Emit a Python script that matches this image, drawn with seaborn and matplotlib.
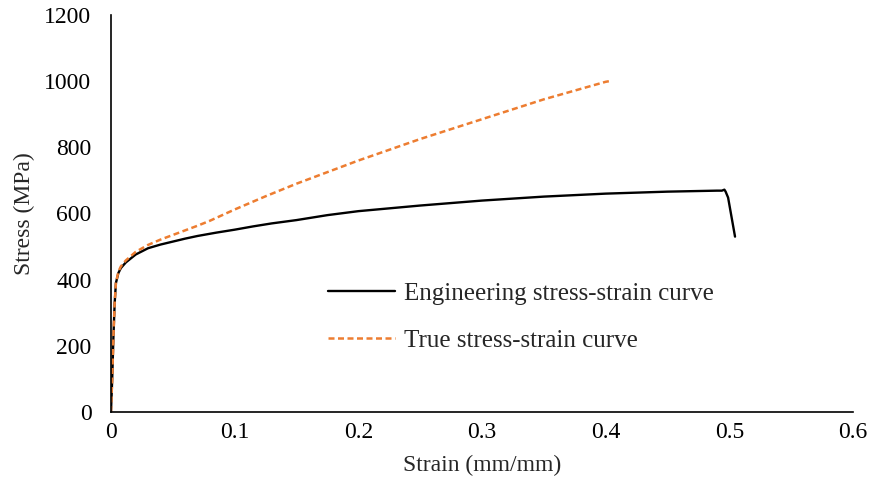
import matplotlib
matplotlib.use("Agg")
import matplotlib.pyplot as plt
import pandas as pd
import seaborn as sns

# Engineering stress-strain curve
eng_strain = [0, 0.001, 0.002, 0.003, 0.004, 0.006, 0.008, 0.012, 0.02, 0.03,
              0.04, 0.05, 0.06, 0.07, 0.085, 0.1, 0.115, 0.13, 0.15, 0.175,
              0.2, 0.25, 0.3, 0.35, 0.4, 0.45, 0.49, 0.494, 0.496, 0.497,
              0.499, 0.5046]
eng_stress = [0, 100, 230, 330, 390, 420, 435, 452, 476, 495,
              506, 515, 524, 532, 542, 551, 561, 570, 580, 595,
              607, 624, 639, 651, 660, 666, 669, 669, 672, 666,
              648, 530]

# True stress-strain curve
true_strain = [0, 0.001, 0.002, 0.003, 0.004, 0.006, 0.008, 0.012, 0.02, 0.03,
               0.04, 0.05, 0.06, 0.07, 0.08, 0.09, 0.1, 0.125, 0.15, 0.2,
               0.25, 0.3, 0.35, 0.4, 0.403]
true_stress = [0, 100, 230, 330, 390, 424, 440, 458, 484, 505,
               521, 535, 549, 563, 578, 595, 612, 652, 690, 760,
               825, 885, 945, 998, 1000]

eng = pd.DataFrame({"strain": eng_strain, "stress": eng_stress})
true = pd.DataFrame({"strain": true_strain, "stress": true_stress})

sns.set_style("white")
plt.rcParams["font.family"] = ["Liberation Serif", "DejaVu Serif"]

fig = plt.figure(figsize=(8.69, 4.96), dpi=100)
ax = fig.add_axes([0.1277, 0.1694, 0.8539, 0.8004])

sns.lineplot(data=eng, x="strain", y="stress", sort=False, color="black",
             linewidth=1.7, ax=ax, label="Engineering stress-strain curve")
sns.lineplot(data=true, x="strain", y="stress", sort=False, color="#ED7D31",
             linewidth=1.8, linestyle=(0, (2.4, 1.4)), ax=ax,
             label="True stress-strain curve")

ax.set_xlim(0, 0.6)
ax.set_ylim(0, 1200)
ax.set_xticks([0, 0.1, 0.2, 0.3, 0.4, 0.5, 0.6])
ax.set_xticklabels(["0", "0.1", "0.2", "0.3", "0.4", "0.5", "0.6"])
ax.set_yticks(range(0, 1201, 200))
ax.set_xlabel("Strain (mm/mm)", fontsize=17, labelpad=9)
ax.set_ylabel("Stress (MPa)", fontsize=17, labelpad=7)

for side in ["top", "right"]:
    ax.spines[side].set_visible(False)
for side in ["left", "bottom"]:
    ax.spines[side].set_color("black")
    ax.spines[side].set_linewidth(1.2)
ax.tick_params(axis="both", direction="in", length=5, width=1.2,
               colors="black", labelsize=17)
ax.tick_params(axis="y", pad=14)
ax.tick_params(axis="x", pad=7)

ax.legend(loc="upper left", bbox_to_anchor=(0.292, 0.327), frameon=False,
          handlelength=2.7, labelspacing=1.0, handletextpad=0.35,
          borderaxespad=0, borderpad=0, fontsize=18)

fig.savefig("out.png", dpi=100)
